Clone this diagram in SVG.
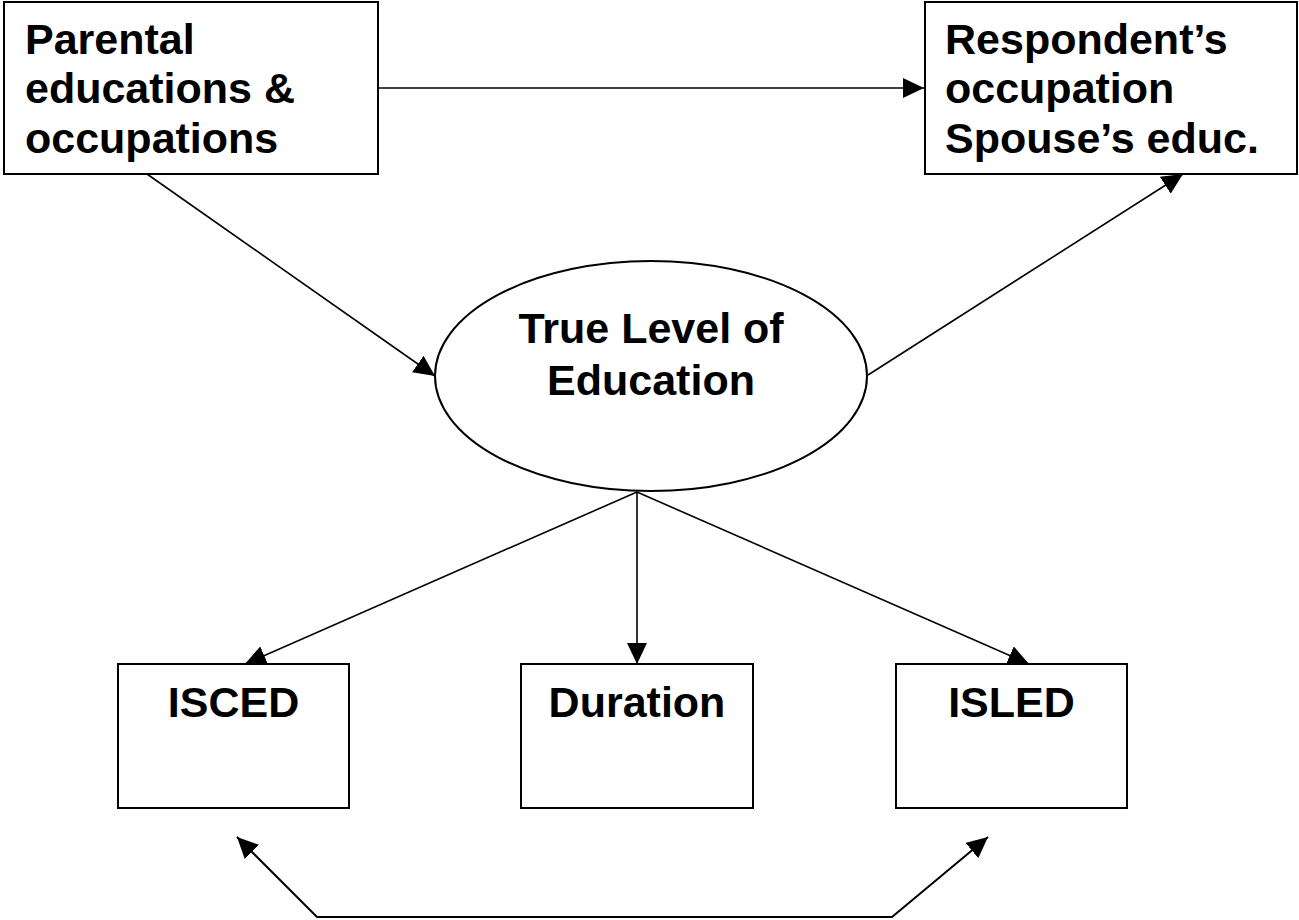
<svg xmlns="http://www.w3.org/2000/svg" width="1299" height="920" viewBox="0 0 1299 920">
<style>
.box{fill:#fff;stroke:#000;stroke-width:2}
.lbl{font-family:"Liberation Sans",Arial,sans-serif;font-weight:bold;font-size:43px;fill:#000}
.c{text-anchor:middle}
.con{fill:none;stroke:#000;stroke-width:1.6}
</style>
<defs>
<marker id="ah" markerUnits="userSpaceOnUse" markerWidth="24" markerHeight="22" refX="21" refY="10" orient="auto" viewBox="0 0 24 22">
<path d="M0,0 L21,10 L0,20 z" fill="#000"/>
</marker>
<marker id="ahs" markerUnits="userSpaceOnUse" markerWidth="24" markerHeight="22" refX="21" refY="10" orient="auto-start-reverse" viewBox="0 0 24 22">
<path d="M0,0 L21,10 L0,20 z" fill="#000"/>
</marker>
</defs>
<rect width="1299" height="920" fill="#fff"/>
<g id="connectors">
<line class="con" x1="378" y1="88" x2="924" y2="88" marker-end="url(#ah)"/>
<line class="con" x1="147" y1="174" x2="435" y2="376" marker-end="url(#ah)"/>
<line class="con" x1="868" y1="375" x2="1183" y2="174" marker-end="url(#ah)"/>
<line class="con" x1="637" y1="492" x2="245" y2="664" marker-end="url(#ah)"/>
<line class="con" x1="637" y1="492" x2="637" y2="664" marker-end="url(#ah)"/>
<line class="con" x1="637" y1="492" x2="1029" y2="664" marker-end="url(#ah)"/>
<polyline class="con" style="stroke-width:2" points="237,837 317,917 892,917 988,837" marker-start="url(#ahs)" marker-end="url(#ah)"/>
</g>
<g id="parental">
<rect class="box" x="4" y="2" width="374" height="172"/>
<text class="lbl" x="25" y="54">Parental</text>
<text class="lbl" x="25" y="103">educations &amp;</text>
<text class="lbl" x="25" y="153">occupations</text>
</g>
<g id="respondent">
<rect class="box" x="925" y="2" width="372" height="172"/>
<text class="lbl" x="945" y="54">Respondent’s</text>
<text class="lbl" x="945" y="103">occupation</text>
<text class="lbl" x="945" y="153">Spouse’s educ.</text>
</g>
<g id="true-level">
<ellipse class="box" cx="651" cy="376" rx="216" ry="115"/>
<text class="lbl c" x="651" y="343">True Level of</text>
<text class="lbl c" x="651" y="395">Education</text>
</g>
<g id="isced">
<rect class="box" x="118" y="664" width="231" height="144"/>
<text class="lbl c" x="233.5" y="717">ISCED</text>
</g>
<g id="duration">
<rect class="box" x="521" y="664" width="232" height="144"/>
<text class="lbl c" x="637" y="717">Duration</text>
</g>
<g id="isled">
<rect class="box" x="896" y="664" width="231" height="144"/>
<text class="lbl c" x="1011.5" y="717">ISLED</text>
</g>
</svg>
